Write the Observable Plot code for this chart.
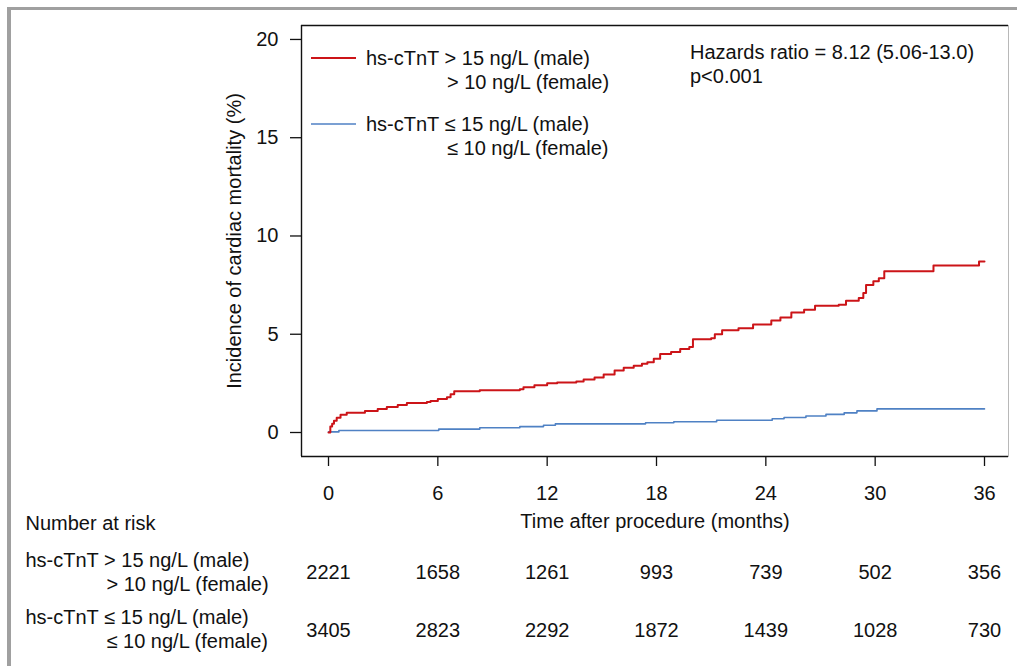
<!DOCTYPE html>
<html>
<head>
<meta charset="utf-8">
<script src="https://cdn.jsdelivr.net/npm/d3@7"></script>
<script src="https://cdn.jsdelivr.net/npm/@observablehq/plot@0.6"></script>
<style>
  html, body { margin: 0; padding: 0; background: #fff; }
  #wrap { position: relative; width: 1017px; height: 666px; overflow: hidden; }
  #wrap svg { position: absolute; left: 0; top: 0; }
  .fr { position: absolute; background: #a0a0a0; }
</style>
</head>
<body>
<div id="wrap">
  <div class="fr" style="left:7px; top:7px; width:1010px; height:3px;"></div>
  <div class="fr" style="left:7px; top:7px; width:4px; height:659px;"></div>
</div>
<script>
// ---- data ----
const redTime = [0, 0.1, 0.2, 0.3, 0.45, 0.66, 1.0, 2.0, 2.7, 3.2, 3.8, 4.3, 5.4, 5.6, 6.0, 6.5, 6.7, 6.9, 8.3, 10.5, 10.7, 11.3, 12.0, 12.55, 13.6, 14.0, 14.6, 15.1, 15.7, 16.2, 16.75, 17.2, 17.5, 17.85, 18.2, 18.8, 19.3, 19.8, 20.0, 21.0, 21.2, 21.6, 22.5, 23.3, 24.3, 24.8, 25.4, 26.1, 26.7, 28.0, 28.4, 29.1, 29.35, 29.5, 29.9, 30.2, 30.5, 33.2, 35.7, 36];
const redInc  = [0, 0.3, 0.45, 0.6, 0.75, 0.9, 1.0, 1.1, 1.2, 1.3, 1.4, 1.5, 1.55, 1.6, 1.7, 1.8, 1.95, 2.1, 2.15, 2.2, 2.3, 2.4, 2.5, 2.55, 2.6, 2.7, 2.8, 2.95, 3.15, 3.3, 3.4, 3.5, 3.58, 3.75, 4.0, 4.1, 4.25, 4.35, 4.75, 4.8, 5.0, 5.2, 5.3, 5.5, 5.7, 5.85, 6.1, 6.25, 6.45, 6.5, 6.7, 6.85, 7.1, 7.5, 7.7, 7.85, 8.2, 8.5, 8.7, 8.7];
const blueTime = [0, 0.57, 6.05, 8.3, 10.5, 11.8, 12.45, 17.4, 18.95, 21.3, 24.35, 25.0, 26.2, 27.3, 28.3, 29.0, 30.1, 36];
const blueInc  = [0.03, 0.1, 0.17, 0.24, 0.3, 0.37, 0.44, 0.5, 0.55, 0.62, 0.7, 0.76, 0.84, 0.92, 1.0, 1.1, 1.2, 1.2];

const xTicks = [0, 6, 12, 18, 24, 30, 36];
const yTicks = [0, 5, 10, 15, 20];
const riskHigh = [2221, 1658, 1261, 993, 739, 502, 356];
const riskLow  = [3405, 2823, 2292, 1872, 1439, 1028, 730];

const groupHighL1 = "hs-cTnT > 15 ng/L (male)";
const groupHighL2 = "> 10 ng/L (female)";
const groupLowL1  = "hs-cTnT \u2264 15 ng/L (male)";
const groupLowL2  = "\u2264 10 ng/L (female)";
const hrText = "Hazards ratio = 8.12 (5.06-13.0)";
const pText = "p<0.001";

const RED = "#cc1418";
const BLUE = "#4f81c4";

const red = redTime.map((t, i) => ({t, v: redInc[i]}));
const blue = blueTime.map((t, i) => ({t, v: blueInc[i]}));

const xDomain = [-1.482, 37.317];
const yDomain = [-1.221, 20.71];

const FS = 20;
const ML = 301, MT = 25;

function legend() {
  const g = d3.create("svg:g").attr("font-size", FS).attr("fill", "#111").attr("text-anchor", "start");
  const items = [
    {c: RED, w: 2, y: 33, l1: groupHighL1, l2: groupHighL2},
    {c: BLUE, w: 1.5, y: 99, l1: groupLowL1, l2: groupLowL2}
  ];
  for (const it of items) {
    g.append("line").attr("x1", ML + 10).attr("x2", ML + 55)
      .attr("y1", MT + it.y).attr("y2", MT + it.y)
      .attr("stroke", it.c).attr("stroke-width", it.w);
    g.append("text").attr("x", ML + 65).attr("y", MT + it.y).attr("dy", "0.35em").text(it.l1);
    g.append("text").attr("x", ML + 146).attr("y", MT + it.y + 23.5).attr("dy", "0.35em").text(it.l2);
  }
  g.append("text").attr("x", ML + 389).attr("y", MT + 27).attr("dy", "0.35em").text(hrText);
  g.append("text").attr("x", ML + 389).attr("y", MT + 51).attr("dy", "0.35em").text(pText);
  return g.node();
}

const lbl = (dx, dy) => ({frameAnchor: "bottom-left", textAnchor: "start", lineAnchor: "middle", dx, dy, text: d => d});

const chart = Plot.plot({
  width: 1017,
  height: 666,
  marginLeft: ML,
  marginTop: MT,
  marginRight: 9,
  marginBottom: 210,
  style: {fontFamily: "'Liberation Sans', Arial, sans-serif", fontSize: FS + "px", color: "#111", background: "transparent", overflow: "visible"},
  x: {domain: xDomain},
  y: {domain: yDomain},
  marks: [
    Plot.frame({stroke: "#b8b8b8"}),
    Plot.ruleX([xDomain[0]], {stroke: "#111", strokeWidth: 1.4}),
    Plot.ruleY([yDomain[0], yDomain[1]], {stroke: "#111", strokeWidth: 1.4}),
    Plot.axisY({ticks: yTicks, tickSize: 11, tickPadding: 12, label: null, strokeWidth: 1.3}),
    Plot.axisX({ticks: xTicks, tickSize: 10, tickPadding: 19, label: null, strokeWidth: 1.3}),
    Plot.text(["Incidence of cardiac mortality (%)"], {frameAnchor: "left", textAnchor: "middle", lineAnchor: "middle", rotate: -90, dx: -67, text: d => d}),
    Plot.text(["Time after procedure (months)"], {frameAnchor: "bottom", lineAnchor: "middle", dy: 65, text: d => d}),
    Plot.line(blue, {x: "t", y: "v", curve: "step-after", stroke: BLUE, strokeWidth: 1.6}),
    Plot.line(red, {x: "t", y: "v", curve: "step-after", stroke: RED, strokeWidth: 2}),
    legend,
    // number at risk table
    Plot.text(["Number at risk"], lbl(-276, 67)),
    Plot.text([groupHighL1], lbl(-276, 104)),
    Plot.text([groupHighL2], lbl(-195, 128)),
    Plot.text([groupLowL1], lbl(-276, 161)),
    Plot.text([groupLowL2], lbl(-195, 185)),
    Plot.text(riskHigh, {x: (d, i) => xTicks[i], frameAnchor: "bottom", lineAnchor: "middle", dy: 116, text: d => String(d)}),
    Plot.text(riskLow, {x: (d, i) => xTicks[i], frameAnchor: "bottom", lineAnchor: "middle", dy: 174, text: d => String(d)})
  ]
});
document.getElementById("wrap").prepend(chart);
</script>
</body>
</html>
